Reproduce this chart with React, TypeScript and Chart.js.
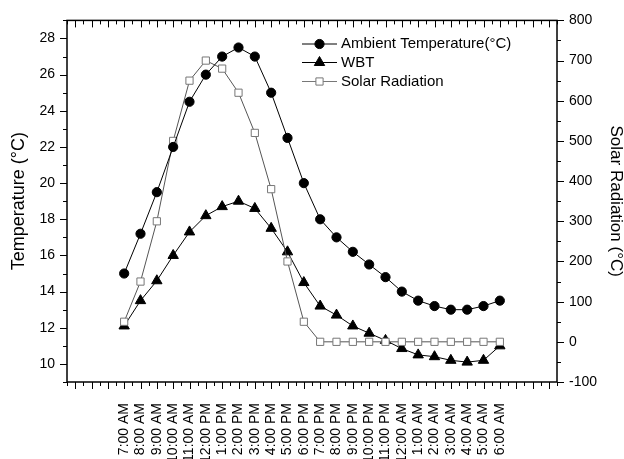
import React, { useEffect, useRef } from 'react';
import { Chart, registerables } from 'chart.js';

Chart.register(...registerables);

const timeLabels = [
  '7:00 AM', '8:00 AM', '9:00 AM', '10:00 AM', '11:00 AM', '12:00 PM',
  '1:00 PM', '2:00 PM', '3:00 PM', '4:00 PM', '5:00 PM', '6:00 PM',
  '7:00 PM', '8:00 PM', '9:00 PM', '10:00 PM', '11:00 PM', '12:00 AM',
  '1:00 AM', '2:00 AM', '3:00 AM', '4:00 AM', '5:00 AM', '6:00 AM',
];

const ambientTemp = [15, 17.2, 19.5, 22, 24.5, 26, 27, 27.5, 27, 25, 22.5, 20, 18, 17, 16.2, 15.5, 14.8, 14, 13.5, 13.2, 13, 13, 13.2, 13.5];
const wbtTemp = [12.1, 13.5, 14.6, 16, 17.3, 18.2, 18.7, 19, 18.6, 17.5, 16.2, 14.5, 13.2, 12.7, 12.1, 11.7, 11.3, 10.85, 10.5, 10.4, 10.2, 10.1, 10.2, 11];
const solarRadiation = [50, 150, 300, 500, 650, 700, 680, 620, 520, 380, 200, 50, 0, 0, 0, 0, 0, 0, 0, 0, 0, 0, 0, 0];

const tempTicks = [10, 12, 14, 16, 18, 20, 22, 24, 26, 28];
const solarTicks = [-100, 0, 100, 200, 300, 400, 500, 600, 700, 800];

const legendItems = [
  { label: 'Ambient Temperature(°C)', style: 'circle', line: '#000', fill: '#000', stroke: '#000' },
  { label: 'WBT', style: 'triangle', line: '#000', fill: '#000', stroke: '#000' },
  { label: 'Solar Radiation', style: 'rect', line: '#777', fill: '#fff', stroke: '#777' },
];

const FONT = '"Liberation Sans", Arial, sans-serif';

function drawMarker(ctx: CanvasRenderingContext2D, style: string, x: number, y: number, fill: string, stroke: string) {
  ctx.beginPath();
  if (style === 'circle') {
    ctx.arc(x, y, 4.6, 0, Math.PI * 2);
  } else if (style === 'triangle') {
    const r = 6;
    ctx.moveTo(x, y - r);
    ctx.lineTo(x + r * Math.sin(Math.PI / 3), y + r / 2);
    ctx.lineTo(x - r * Math.sin(Math.PI / 3), y + r / 2);
    ctx.closePath();
  } else {
    const s = 3.6;
    ctx.rect(x - s, y - s, 2 * s, 2 * s);
  }
  ctx.fillStyle = fill;
  ctx.fill();
  ctx.strokeStyle = stroke;
  ctx.lineWidth = 1;
  ctx.stroke();
}

const framePlugin = {
  id: 'frameTicks',
  afterDatasetsDraw(chart: any) {
    const { ctx, chartArea, scales } = chart;
    const { left, right, top, bottom } = chartArea;
    ctx.save();
    ctx.strokeStyle = '#000';
    ctx.lineWidth = 1.5;
    ctx.strokeRect(left, top, right - left, bottom - top);
    ctx.lineWidth = 1;
    const seg = (x1: number, y1: number, x2: number, y2: number) => {
      ctx.beginPath();
      ctx.moveTo(x1, y1);
      ctx.lineTo(x2, y2);
      ctx.stroke();
    };
    const xs = scales.x;
    for (let v = xs.min; v <= xs.max + 1e-6; v += 0.5) {
      const px = Math.round(xs.getPixelForValue(v)) + 0.5;
      const major = Math.abs(v - Math.round(v)) < 1e-6;
      const len = major ? 7 : 4;
      seg(px, bottom, px, bottom + len);
      seg(px, top, px, top + len);
    }
    const yl = scales.y;
    for (let v = yl.min; v <= yl.max + 1e-6; v += 1) {
      const py = Math.round(yl.getPixelForValue(v)) + 0.5;
      const major = Math.round(v) % 2 === 0;
      seg(left, py, left - (major ? 7 : 4), py);
    }
    const yr = scales.y1;
    for (let v = yr.min; v <= yr.max + 1e-6; v += 50) {
      const py = Math.round(yr.getPixelForValue(v)) + 0.5;
      const major = Math.round(v) % 100 === 0;
      seg(right, py, right + (major ? 7 : 4), py);
    }
    // legend
    ctx.font = `15px ${FONT}`;
    ctx.textBaseline = 'middle';
    ctx.textAlign = 'left';
    const rows = [44, 62.5, 81.5];
    legendItems.forEach((it, i) => {
      const y = rows[i];
      ctx.strokeStyle = it.line;
      ctx.lineWidth = 1;
      seg(302, y, 337, y);
      drawMarker(ctx, it.style, 319.5, y, it.fill, it.stroke);
      ctx.fillStyle = '#000';
      ctx.fillText(it.label, 341, y);
    });
    ctx.restore();
  },
};

export default function App() {
  const canvasRef = useRef<HTMLCanvasElement | null>(null);

  useEffect(() => {
    if (!canvasRef.current) return;
    const toPts = (arr: number[]) => arr.map((v, i) => ({ x: i, y: v }));
    const chart = new Chart(canvasRef.current, {
      type: 'line',
      data: {
        datasets: [
          {
            label: 'Ambient Temperature(°C)',
            data: toPts(ambientTemp),
            yAxisID: 'y',
            borderColor: '#000',
            borderWidth: 1,
            pointStyle: 'circle',
            pointRadius: 4.6,
            pointBackgroundColor: '#000',
            pointBorderColor: '#000',
            pointBorderWidth: 1,
            order: 0,
          },
          {
            label: 'WBT',
            data: toPts(wbtTemp),
            yAxisID: 'y',
            borderColor: '#000',
            borderWidth: 1,
            pointStyle: 'triangle',
            pointRadius: 6,
            pointBackgroundColor: '#000',
            pointBorderColor: '#000',
            pointBorderWidth: 1,
            order: 2,
          },
          {
            label: 'Solar Radiation',
            data: toPts(solarRadiation),
            yAxisID: 'y1',
            borderColor: '#555',
            borderWidth: 1,
            pointStyle: 'rect',
            pointRadius: 5.1,
            pointBackgroundColor: '#fff',
            pointBorderColor: '#777',
            pointBorderWidth: 1,
            order: 1,
          },
        ],
      },
      options: {
        responsive: false,
        animation: false,
        layout: { padding: { top: 18, left: 0, right: 0, bottom: 0 } },
        plugins: {
          legend: { display: false },
          tooltip: { enabled: false },
        },
        scales: {
          x: {
            type: 'linear',
            min: -3.5,
            max: 26.5,
            offset: false,
            grid: { display: false, drawTicks: false },
            border: { display: false },
            afterBuildTicks: (scale: any) => {
              scale.ticks = timeLabels.map((_, i) => ({ value: i }));
            },
            afterFit: (scale: any) => {
              scale.height = 77;
            },
            ticks: {
              autoSkip: false,
              minRotation: 90,
              maxRotation: 90,
              padding: 21,
              color: '#000',
              font: { size: 14, family: FONT },
              callback: (value: any) => timeLabels[Math.round(Number(value))] ?? '',
            },
          },
          y: {
            type: 'linear',
            position: 'left',
            min: 9,
            max: 29,
            grid: { display: false, drawTicks: false },
            border: { display: false },
            afterBuildTicks: (scale: any) => {
              scale.ticks = tempTicks.map((v) => ({ value: v }));
            },
            afterFit: (scale: any) => {
              scale.width = 67;
            },
            ticks: {
              padding: 12,
              color: '#000',
              font: { size: 14, family: FONT },
            },
            title: {
              display: true,
              text: 'Temperature (°C)',
              color: '#000',
              font: { size: 18, family: FONT, lineHeight: 1 },
              padding: { top: 10, bottom: 0 },
            },
          },
          y1: {
            type: 'linear',
            position: 'right',
            min: -100,
            max: 800,
            grid: { display: false, drawTicks: false },
            border: { display: false },
            afterBuildTicks: (scale: any) => {
              scale.ticks = solarTicks.map((v) => ({ value: v }));
            },
            afterFit: (scale: any) => {
              scale.width = 67;
            },
            ticks: {
              padding: 12,
              color: '#000',
              font: { size: 14, family: FONT },
            },
            title: {
              display: true,
              text: 'Solar Radiation (°C)',
              color: '#000',
              font: { size: 17, family: FONT, lineHeight: 1 },
              padding: { top: 0, bottom: 0 },
            },
          },
        },
      },
      plugins: [framePlugin],
    });
    return () => chart.destroy();
  }, []);

  return (
    <div style={{ position: 'absolute', left: 0, top: 0, width: 624, height: 459, background: '#fff' }}>
      <canvas ref={canvasRef} width={624} height={459} />
    </div>
  );
}
